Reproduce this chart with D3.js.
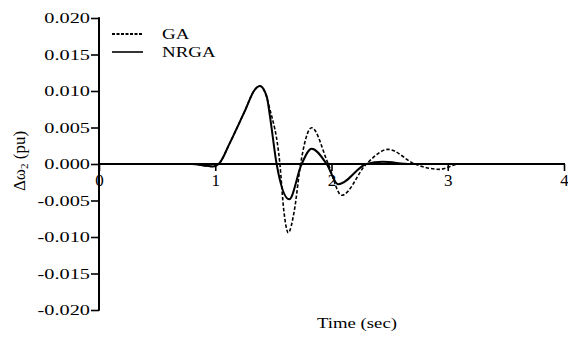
<!DOCTYPE html>
<html>
<head>
<meta charset="utf-8">
<script src="https://cdn.jsdelivr.net/npm/d3@7"></script>
<style>
  html, body { margin: 0; padding: 0; background: #fff; }
  svg { display: block; }
  text { font-family: "Liberation Serif", "Times New Roman", serif; fill: #000; }
</style>
</head>
<body>
<div id="chart"></div>
<script>
// axis ticks
const xTicks = [0, 1, 2, 3, 4];
const xTickLabels = ['0', '1', '2', '3', '4'];
const yTicks = [-0.020, -0.015, -0.010, -0.005, 0.000, 0.005, 0.010, 0.015, 0.020];
const yTickLabels = ['-0.020', '-0.015', '-0.010', '-0.005', '0.000', '0.005', '0.010', '0.015', '0.020'];

// series
const gaTime = [0, 0.80, 0.90, 0.98, 1.03, 1.126, 1.25, 1.341, 1.384, 1.43, 1.47, 1.556, 1.59, 1.628, 1.68, 1.734, 1.829, 1.972, 2.087, 2.30, 2.488, 2.717, 2.93, 3.10, 4];
const gaValue = [0, 0, -0.0002, -0.00034, 0, 0.0029, 0.0071, 0.0102, 0.0107, 0.0097, 0.0075, 0, -0.0064, -0.0094, -0.0064, 0, 0.00497, 0, -0.00429, 0, 0.0020, 0, -0.00073, 0, 0];

const nrgaTime = [0, 0.80, 0.90, 0.98, 1.03, 1.126, 1.25, 1.341, 1.384, 1.442, 1.47, 1.528, 1.636, 1.743, 1.829, 1.958, 2.058, 2.30, 2.44, 2.68, 4];
const nrgaValue = [0, 0, -0.0002, -0.00034, 0, 0.0029, 0.0071, 0.0102, 0.0107, 0.0093, 0.0066, 0, -0.00484, 0, 0.0021, 0, -0.00278, 0, 0.0003, 0, 0];

const legendNames = ['GA', 'NRGA'];

const width = 568;
const height = 337;

const x = d3.scaleLinear().domain([0, 4]).range([99, 564]);
const y = d3.scaleLinear().domain([-0.020, 0.020]).range([310, 18]);

const svg = d3.select('#chart').append('svg')
  .attr('width', width)
  .attr('height', height)
  .attr('viewBox', [0, 0, width, height]);

// y axis
const yAxis = svg.append('g')
  .attr('transform', `translate(${x(0)},0)`)
  .call(d3.axisLeft(y).tickValues(yTicks).tickSize(8).tickPadding(1)
    .tickFormat((d, i) => yTickLabels[i]));
yAxis.select('.domain').remove();
yAxis.selectAll('.tick line').attr('stroke', '#000').attr('stroke-width', 1.6);
yAxis.selectAll('.tick text')
  .attr('x', null).attr('dy', null)
  .attr('font-size', 14)
  .attr('transform', 'translate(-9,4.6) scale(1.45,1)')
  .attr('text-anchor', 'end');
yAxis.append('line')
  .attr('x1', 0).attr('x2', 0)
  .attr('y1', y(0.020) - 0.8).attr('y2', y(-0.020) + 0.8)
  .attr('stroke', '#000').attr('stroke-width', 2);

// x axis through zero
const xAxis = svg.append('g')
  .attr('transform', `translate(0,${y(0)})`)
  .call(d3.axisBottom(x).tickValues(xTicks).tickSize(7).tickPadding(3)
    .tickFormat((d, i) => xTickLabels[i]));
xAxis.select('.domain').remove();
xAxis.selectAll('.tick line').attr('stroke', '#000').attr('stroke-width', 1.6);
xAxis.selectAll('.tick text')
  .attr('dy', null)
  .attr('y', 22)
  .attr('font-size', 17);
xAxis.append('line')
  .attr('x1', x(0)).attr('x2', x(4) + 1)
  .attr('y1', 0).attr('y2', 0)
  .attr('stroke', '#000').attr('stroke-width', 2);

// curves
const line = d3.line()
  .x(d => x(d[0]))
  .y(d => y(d[1]))
  .curve(d3.curveMonotoneX);

const gaData = gaTime.map((t, i) => [t, gaValue[i]]);
const nrgaData = nrgaTime.map((t, i) => [t, nrgaValue[i]]);

svg.append('path')
  .datum(gaData)
  .attr('d', line)
  .attr('fill', 'none')
  .attr('stroke', '#000')
  .attr('stroke-width', 1.6)
  .attr('stroke-dasharray', '3.5,2');

svg.append('path')
  .datum(nrgaData)
  .attr('d', line)
  .attr('fill', 'none')
  .attr('stroke', '#000')
  .attr('stroke-width', 2);

// legend
const legend = svg.append('g');
legendNames.forEach((name, i) => {
  const ly = 34 + i * 18;
  legend.append('line')
    .attr('x1', 112).attr('x2', 143)
    .attr('y1', ly).attr('y2', ly)
    .attr('stroke', '#000')
    .attr('stroke-width', i === 0 ? 2.2 : 1.6)
    .attr('stroke-dasharray', i === 0 ? '3,1.5' : null);
  legend.append('text')
    .attr('transform', `translate(162,${ly + 4.5}) scale(1.35,1)`)
    .attr('font-size', 14)
    .text(name);
});

// axis titles
svg.append('text')
  .attr('transform', 'translate(357,328) scale(1.25,1)')
  .attr('text-anchor', 'middle')
  .attr('font-size', 15)
  .text('Time (sec)');

const yTitle = svg.append('text')
  .attr('transform', 'translate(25,161) rotate(-90)')
  .attr('text-anchor', 'middle')
  .attr('font-size', 17);
yTitle.append('tspan').text('\u0394\u03c9');
yTitle.append('tspan').attr('font-size', 11).attr('dy', 3).text('2');
yTitle.append('tspan').attr('dy', -3).text(' (pu)');
</script>
</body>
</html>
